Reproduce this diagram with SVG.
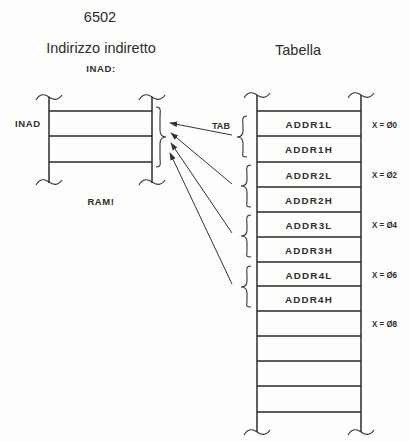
<svg xmlns="http://www.w3.org/2000/svg" width="410" height="441" viewBox="0 0 410 441">
<defs>
<style>
.bg{fill:#fdfdfb}
.ln{stroke:#2a2a2a;stroke-width:1.5;fill:none}
.hl{stroke:#2a2a2a;stroke-width:1.6;fill:none}
.br{stroke:#333;stroke-width:1.1;fill:none}
.ar{stroke:#333;stroke-width:1;fill:none}
.t{font-family:"Liberation Sans",Arial,sans-serif;fill:#2e2e2e}
.big{font-size:14.5px;text-anchor:middle}
.sm{font-size:9.5px;font-weight:bold;letter-spacing:0.6px}
.cell{font-size:9.8px;font-weight:bold;letter-spacing:1.2px;text-anchor:middle}
.x{font-size:9.3px;font-weight:bold}
</style>
<marker id="ah" viewBox="0 0 10 10" refX="9" refY="5" markerWidth="8" markerHeight="8" orient="auto" markerUnits="userSpaceOnUse">
<path d="M0,1.5 L10,5 L0,8.5 Z" fill="#333"/>
</marker>
</defs>
<rect class="bg" x="0" y="0" width="410" height="441"/>

<g id="titles">
<text class="t big" x="100" y="22">6502</text>
<text class="t big" x="101" y="53">Indirizzo indiretto</text>
<text class="t sm" x="101" y="72" text-anchor="middle">INAD:</text>
<text class="t big" x="298" y="55">Tabella</text>
</g>

<g id="ram">
<path class="ln" d="M49,97 V183"/>
<path class="ln" d="M152,97 V183"/>
<path class="br" d="M36,100 C40,93 45,94 49,97 C53,100 58,101 62,95"/>
<path class="br" d="M139,100 C143,93 148,94 152,97 C156,100 161,101 165,95"/>
<path class="br" d="M36,185 C40,178 45,179 49,182 C53,185 58,186 62,180"/>
<path class="br" d="M139,185 C143,178 148,179 152,182 C156,185 161,186 165,180"/>
<path class="hl" d="M49,111 H152 M49,136 H152 M49,162 H152"/>
<text class="t sm" x="15" y="127">INAD</text>
<text class="t sm" x="101" y="205" text-anchor="middle">RAM!</text>
<path class="br" d="M156,107 C162,107 160,112 160,118 L160,130 C160,135 162,137 166,137 C162,137 160,139 160,144 L160,157 C160,163 162,167 156,167"/>
</g>

<g id="table">
<path class="ln" d="M257,95 V432"/>
<path class="ln" d="M361,95 V432"/>
<path class="br" d="M244,98 C248,91 253,92 257,95 C261,98 266,99 270,93"/>
<path class="br" d="M348,98 C352,91 357,92 361,95 C365,98 370,99 374,93"/>
<path class="br" d="M244,435 C248,428 253,429 257,432 C261,435 266,436 270,430"/>
<path class="br" d="M348,435 C352,428 357,429 361,432 C365,435 370,436 374,430"/>
<path class="hl" d="M257,111 H361 M257,136 H361 M257,162 H361 M257,187 H361 M257,212 H361 M257,237 H361 M257,262 H361 M257,286 H361 M257,311 H361 M257,336 H361 M257,361 H361 M257,386 H361 M257,412 H361"/>
<text class="t cell" x="309" y="128">ADDR1L</text>
<text class="t cell" x="309" y="153">ADDR1H</text>
<text class="t cell" x="309" y="179">ADDR2L</text>
<text class="t cell" x="309" y="204">ADDR2H</text>
<text class="t cell" x="309" y="229">ADDR3L</text>
<text class="t cell" x="309" y="254">ADDR3H</text>
<text class="t cell" x="309" y="279">ADDR4L</text>
<text class="t cell" x="309" y="303">ADDR4H</text>
<text class="t x" x="372" y="128" textLength="25" lengthAdjust="spacingAndGlyphs">X = Ø0</text>
<text class="t x" x="372" y="178" textLength="25" lengthAdjust="spacingAndGlyphs">X = Ø2</text>
<text class="t x" x="372" y="228" textLength="25" lengthAdjust="spacingAndGlyphs">X = Ø4</text>
<text class="t x" x="372" y="278" textLength="25" lengthAdjust="spacingAndGlyphs">X = Ø6</text>
<text class="t x" x="372" y="327" textLength="25" lengthAdjust="spacingAndGlyphs">X = Ø8</text>
<text class="t x" x="212" y="129" textLength="18" lengthAdjust="spacingAndGlyphs" style="font-size:9px">TAB</text>
<path class="br" d="M247,116 C241,116 243,121 243,127 L243,131 C243,135 241,137 237,137 C241,137 243,139 243,143 L243,150 C243,155 241,157 247,157"/>
<path class="br" d="M251,165 C245,165 247,170 247,176 L247,180 C247,184 245,186 241,186 C245,186 247,188 247,192 L247,200 C247,205 245,207 251,207"/>
<path class="br" d="M251,215 C245,215 247,220 247,226 L247,230 C247,234 245,236 241,236 C245,236 247,238 247,242 L247,250 C247,255 245,257 251,257"/>
<path class="br" d="M251,266 C245,266 247,271 247,277 L247,281 C247,285 245,287 241,287 C245,287 247,289 247,293 L247,300 C247,305 245,307 251,307"/>
</g>

<g id="connectors">
<path class="ar" d="M232,135 L170,123" marker-end="url(#ah)"/>
<path class="ar" d="M232,184 L171,133" marker-end="url(#ah)"/>
<path class="ar" d="M232,233 L171,143" marker-end="url(#ah)"/>
<path class="ar" d="M232,284 L170,153" marker-end="url(#ah)"/>
</g>
</svg>
